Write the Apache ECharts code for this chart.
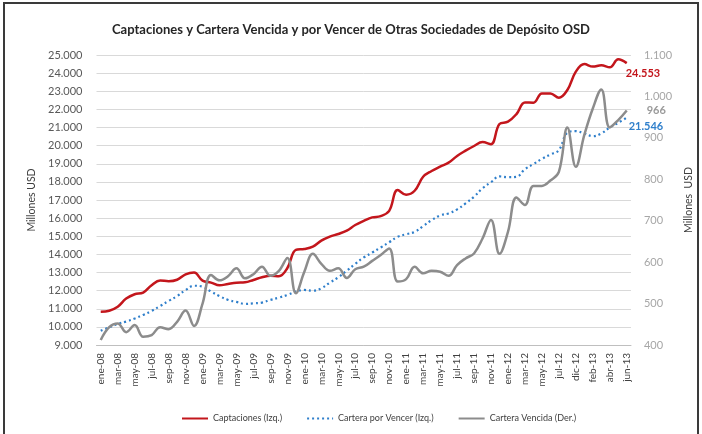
<!DOCTYPE html>
<html>
<head>
<meta charset="utf-8">
<script src="https://cdn.jsdelivr.net/npm/echarts@6/dist/echarts.min.js"></script>
<style>
  html, body { margin: 0; padding: 0; background: #fff; }
  #chart { width: 702px; height: 434px; }
</style>
</head>
<body>
<div id="chart"></div>
<script>
// meses (falta un tramo en 2012, como en el original)
var meses = [
  "ene-08","feb-08","mar-08","abr-08","may-08","jun-08","jul-08","ago-08","sep-08","oct-08","nov-08","dic-08",
  "ene-09","feb-09","mar-09","abr-09","may-09","jun-09","jul-09","ago-09","sep-09","oct-09","nov-09","dic-09",
  "ene-10","feb-10","mar-10","abr-10","may-10","jun-10","jul-10","ago-10","sep-10","oct-10","nov-10","dic-10",
  "ene-11","feb-11","mar-11","abr-11","may-11","jun-11","jul-11","ago-11","sep-11","oct-11","nov-11","dic-11",
  "ene-12","feb-12","mar-12","abr-12","may-12","jun-12","jul-12","ago-12",
  "dic-12","ene-13","feb-13","mar-13","abr-13","may-13","jun-13"
];

// Captaciones (Izq.)
var captaciones = [
  10830, 10890, 11110, 11560, 11800, 11890, 12300, 12560, 12520, 12600, 12900, 13000,
  12550, 12440, 12290, 12370, 12440, 12460, 12590, 12735, 12825, 12800, 13250, 14250,
  14300, 14430, 14760, 14980, 15125, 15310, 15620, 15850, 16040, 16110, 16400, 17550,
  17290, 17510, 18280, 18600, 18840, 19060, 19430, 19720, 19980, 20200, 20080, 21190,
  21320, 21740, 22380, 22370, 22880, 22880, 22640, 23070,
  24080, 24500, 24360, 24430, 24320, 24760, 24553
];

// Cartera por Vencer (Izq.)
var carteraPorVencer = [
  9780, 9980, 10160, 10290, 10460, 10660, 10880, 11150, 11430, 11700, 12030, 12270,
  12220, 11950, 11700, 11490, 11376, 11266, 11300, 11340, 11486, 11615, 11761, 11944,
  12036, 11999, 12128, 12440, 12734, 13100, 13480, 13830, 14100, 14380, 14670, 14970,
  15110, 15240, 15560, 15890, 16150, 16260, 16480, 16810, 17180, 17650, 17980, 18300,
  18260, 18280, 18700, 18980, 19270, 19510, 19750, 20710,
  20800, 20670, 20520, 20670, 21000, 21260, 21546
];

// Cartera Vencida (Der.)
var carteraVencida = [
  412, 443, 452, 431, 448, 420, 424, 443, 438, 456, 483, 446,
  500, 569, 556, 566, 585, 561, 571, 589, 567, 579, 610, 525,
  577, 620, 596, 579, 585, 562, 583, 589, 603, 617, 633, 553,
  559, 589, 573, 579, 577, 567, 593, 609, 621, 657, 702, 620,
  673, 756, 738, 784, 784, 797, 818, 925,
  830, 907, 971, 1017, 925, 943, 966
];

var FONT = "Lato, 'Open Sans', sans-serif";

function miles(v) {
  return String(Math.round(v)).replace(/\B(?=(\d{3})+(?!\d))/g, ".");
}

var chart = echarts.init(document.getElementById("chart"));

var option = {
  animation: false,
  backgroundColor: "#fff",
  textStyle: { fontFamily: FONT },
  title: {
    text: "Captaciones y Cartera Vencida y por Vencer de Otras Sociedades de Depósito OSD",
    left: "center",
    top: 18,
    textStyle: { fontFamily: FONT, fontSize: 13, fontWeight: "bold", color: "#262626" }
  },
  graphic: [{
    type: "rect",
    shape: { x: 4, y: 3, width: 694, height: 440 },
    style: { fill: null, stroke: "#3a3a3a", lineWidth: 2 },
    silent: true
  }],
  legend: {
    left: 176,
    top: 409,
    itemWidth: 26,
    itemHeight: 10,
    itemGap: 24,
    itemStyle: { opacity: 0 },
    textStyle: { fontFamily: FONT, fontSize: 9, color: "#404040" },
    data: ["Captaciones (Izq.)", "Cartera por Vencer (Izq.)", "Cartera Vencida (Der.)"]
  },
  grid: { left: 96.5, right: 64.5, top: 55, bottom: 89, containLabel: false },
  xAxis: {
    type: "category",
    data: meses,
    boundaryGap: true,
    axisLine: { lineStyle: { color: "#BFBFBF" } },
    axisTick: { interval: 1, length: 4, lineStyle: { color: "#BFBFBF" } },
    axisLabel: {
      interval: 1,
      rotate: 90,
      margin: 8,
      fontFamily: FONT,
      fontSize: 10,
      color: "#404040"
    },
    splitLine: { show: false }
  },
  yAxis: [{
    type: "value",
    min: 9000,
    max: 25000,
    interval: 1000,
    name: "Millones USD",
    nameLocation: "middle",
    nameRotate: 90,
    nameGap: 53,
    nameTextStyle: { fontFamily: FONT, fontSize: 10.5, color: "#404040" },
    axisLine: { show: false },
    axisTick: { show: false },
    axisLabel: {
      margin: 14,
      fontFamily: FONT,
      fontSize: 11,
      color: "#595959",
      formatter: miles
    },
    splitLine: { lineStyle: { color: "#D9D9D9", width: 1 } }
  }, {
    type: "value",
    min: 400,
    max: 1100,
    interval: 100,
    name: "Millones  USD",
    nameLocation: "middle",
    nameRotate: 90,
    nameGap: 40,
    nameTextStyle: { fontFamily: FONT, fontSize: 10.5, color: "#404040" },
    axisLine: { show: false },
    axisTick: { show: false },
    axisLabel: {
      margin: 13,
      fontFamily: FONT,
      fontSize: 11,
      color: "#A6A6A6",
      formatter: miles
    },
    splitLine: { show: false }
  }],
  series: [{
    name: "Captaciones (Izq.)",
    type: "line",
    yAxisIndex: 0,
    data: captaciones,
    smooth: 0.4,
    symbol: "none",
    lineStyle: { color: "#C3161C", width: 2.5 },
    itemStyle: { color: "#C3161C" },
    endLabel: {
      show: true,
      formatter: function (p) { return miles(p.value); },
      offset: [-9, 10],
      fontFamily: FONT,
      fontSize: 11,
      fontWeight: "bold",
      color: "#C3161C"
    }
  }, {
    name: "Cartera por Vencer (Izq.)",
    type: "line",
    yAxisIndex: 0,
    data: carteraPorVencer,
    smooth: 0.4,
    symbol: "none",
    lineStyle: { color: "#2F7FCB", width: 2.2, type: [2, 3] },
    itemStyle: { color: "#2F7FCB" },
    endLabel: {
      show: true,
      formatter: function (p) { return miles(p.value); },
      offset: [-6, 9],
      fontFamily: FONT,
      fontSize: 11,
      fontWeight: "bold",
      color: "#2F7FCB"
    }
  }, {
    name: "Cartera Vencida (Der.)",
    type: "line",
    yAxisIndex: 1,
    data: carteraVencida,
    smooth: 0.4,
    symbol: "none",
    lineStyle: { color: "#8C8C8C", width: 2.5 },
    itemStyle: { color: "#8C8C8C" },
    endLabel: {
      show: true,
      formatter: function (p) { return miles(p.value); },
      offset: [12, 0],
      fontFamily: FONT,
      fontSize: 11,
      fontWeight: "bold",
      color: "#9A9A9A"
    }
  }]
};

chart.setOption(option);
</script>
</body>
</html>
